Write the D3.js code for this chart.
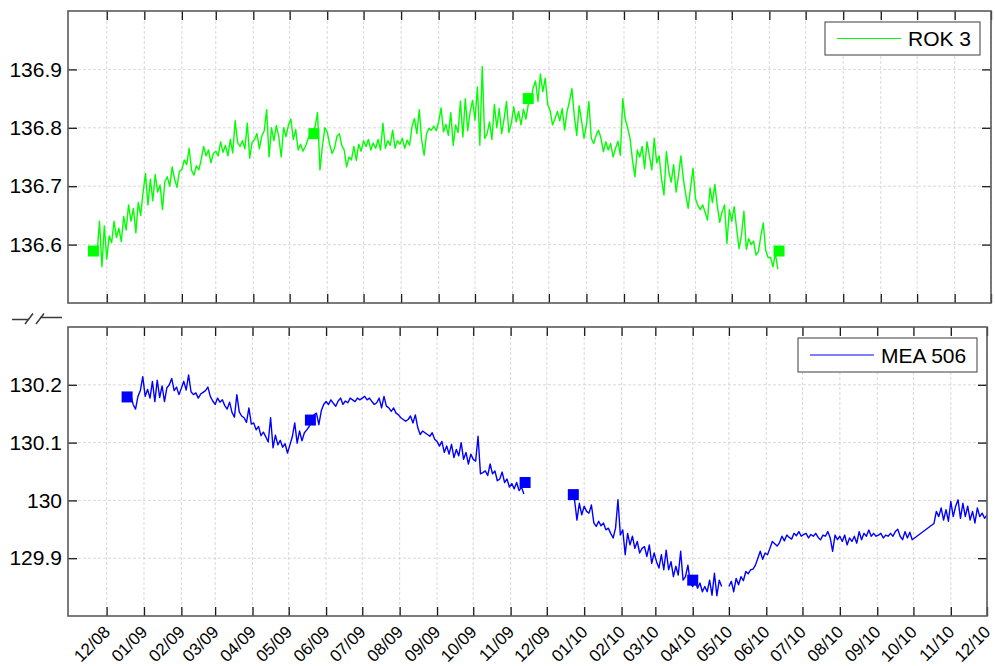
<!DOCTYPE html>
<html>
<head>
<meta charset="utf-8">
<script src="https://cdn.jsdelivr.net/npm/d3@7"></script>
<style>
  body { margin: 0; background: #fff; }
  svg { display: block; }
  text { font-family: "Liberation Sans", Arial, Helvetica, sans-serif; fill: #000; }
</style>
</head>
<body>
<svg id="chart" width="995" height="666"></svg>
<script>
// ---- data -------------------------------------------------------------
// Samples are every second day; each run starts at the given date.
const SAMPLE_DAYS = 2;

const rokStart = "2008-11-23";
const rokValues = [
  136.585, 136.640, 136.562, 136.632,
  136.575, 136.615, 136.603, 136.640, 136.612, 136.628, 136.605, 136.648, 136.625, 136.668, 136.640, 136.662, 136.620, 136.672, 136.650, 136.690,
  136.722, 136.668, 136.712, 136.675, 136.720, 136.690, 136.702, 136.660, 136.708, 136.716, 136.700, 136.733, 136.712, 136.698, 136.726,
  136.728, 136.745, 136.737, 136.765, 136.727, 136.719, 136.735, 136.728, 136.746, 136.768, 136.752, 136.762, 136.740, 136.756,
  136.760, 136.752, 136.776, 136.758, 136.770, 136.752, 136.780, 136.757, 136.812, 136.775, 136.768, 136.778, 136.764, 136.808, 136.748, 136.775,
  136.780, 136.790, 136.764, 136.786, 136.795, 136.831, 136.750, 136.800, 136.778, 136.804, 136.785, 136.750, 136.800, 136.785, 136.805,
  136.815, 136.780, 136.797, 136.762, 136.772, 136.760, 136.768, 136.780, 136.790, 136.795, 136.802, 136.826, 136.728, 136.768, 136.800,
  136.793, 136.772, 136.756, 136.765, 136.785, 136.790, 136.770, 136.762, 136.733, 136.750, 136.745, 136.768, 136.744, 136.772, 136.760,
  136.778, 136.768, 136.780, 136.762, 136.774, 136.765, 136.780, 136.762, 136.808, 136.765, 136.778, 136.770, 136.796, 136.765, 136.778, 136.772,
  136.782, 136.765, 136.779, 136.770, 136.802, 136.816, 136.790, 136.831, 136.778, 136.753, 136.790, 136.799, 136.796, 136.803, 136.795,
  136.810, 136.834, 136.793, 136.806, 136.787, 136.826, 136.770, 136.805, 136.792, 136.846, 136.784, 136.850, 136.795, 136.828, 136.847,
  136.813, 136.870, 136.770, 136.905, 136.782, 136.790, 136.810, 136.780, 136.840, 136.800, 136.833, 136.790, 136.815, 136.845, 136.792, 136.808,
  136.836, 136.810, 136.828, 136.805, 136.832, 136.815, 136.840, 136.848, 136.868, 136.880, 136.845, 136.892, 136.862, 136.885, 136.840,
  136.830, 136.805, 136.815, 136.828, 136.812, 136.833, 136.796, 136.828, 136.845, 136.867, 136.820, 136.787, 136.838, 136.812, 136.782,
  136.805, 136.845, 136.782, 136.773, 136.787, 136.796, 136.782, 136.759, 136.776, 136.762, 136.773, 136.750, 136.765, 136.777, 136.753, 136.850,
  136.815, 136.800, 136.782, 136.745, 136.716, 136.762, 136.750, 136.768, 136.730, 136.776, 136.752, 136.728, 136.782, 136.740,
  136.752, 136.712, 136.685, 136.759, 136.725, 136.707, 136.737, 136.690, 136.718, 136.752, 136.713, 136.685, 136.662, 136.698, 136.731,
  136.679, 136.667, 136.660, 136.668, 136.655, 136.642, 136.697, 136.672, 136.703, 136.667, 136.638, 136.656, 136.668, 136.602, 136.660,
  136.640, 136.665, 136.627, 136.593, 136.616, 136.657, 136.592, 136.610, 136.600, 136.606, 136.582, 136.588, 136.615, 136.637, 136.590, 136.578,
  136.578, 136.562, 136.585, 136.558
];
const rokMarkerDates = ["2008-11-20", "2009-05-21", "2009-11-14", "2010-06-09"];
const rokMarkerValues = [136.589, 136.790, 136.850, 136.589];

const meaStartA = "2008-12-21";
const meaValuesA = [
  130.183, 130.166, 130.158, 130.180, 130.190, 130.214,
  130.180, 130.192, 130.177, 130.206, 130.171, 130.208, 130.178, 130.198, 130.171, 130.195, 130.200, 130.211, 130.190, 130.196, 130.183,
  130.194, 130.206, 130.191, 130.217, 130.188, 130.183, 130.186, 130.177, 130.184, 130.187, 130.190, 130.196, 130.180, 130.172,
  130.166, 130.177, 130.170, 130.174, 130.164, 130.158, 130.170, 130.152, 130.144, 130.183, 130.153, 130.146, 130.143, 130.135, 130.160, 130.132,
  130.134, 130.122, 130.128, 130.112, 130.118, 130.110, 130.101, 130.143, 130.091, 130.113, 130.096, 130.104, 130.092, 130.098, 130.082,
  130.096, 130.110, 130.134, 130.099, 130.120, 130.103, 130.117, 130.122, 130.128, 130.138, 130.148, 130.151, 130.131, 130.155, 130.166,
  130.171, 130.166, 130.174, 130.168, 130.163, 130.172, 130.177, 130.166, 130.172, 130.169, 130.177, 130.174, 130.171, 130.177, 130.174,
  130.177, 130.180, 130.174, 130.177, 130.171, 130.166, 130.169, 130.177, 130.160, 130.180, 130.163, 130.160, 130.154, 130.160, 130.151, 130.148,
  130.143, 130.140, 130.137, 130.140, 130.146, 130.134, 130.148, 130.126, 130.114, 130.120, 130.117, 130.114, 130.111, 130.117, 130.106,
  130.102, 130.094, 130.102, 130.083, 130.094, 130.080, 130.097, 130.074, 130.088, 130.077, 130.100, 130.071, 130.083, 130.063, 130.080,
  130.071, 130.068, 130.111, 130.046, 130.048, 130.051, 130.043, 130.063, 130.046, 130.051, 130.034, 130.037, 130.049, 130.031, 130.037, 130.023,
  130.029, 130.020, 130.031, 130.017, 130.023, 130.011
];

const meaStartB = "2009-12-24";
const meaValuesB = [
  130.001, 129.966, 129.995, 129.975, 129.990, 129.981, 129.978, 129.992, 129.961, 129.955,
  129.964, 129.956, 129.961, 129.949, 129.952, 129.943, 129.935, 129.952, 130.001, 129.940,
  129.949, 129.906, 129.943, 129.923, 129.938, 129.917, 129.929, 129.909, 129.917, 129.920,
  129.903, 129.923, 129.891, 129.909, 129.894, 129.883, 129.906, 129.880, 129.914, 129.880,
  129.894, 129.868, 129.886, 129.871, 129.912, 129.862, 129.868, 129.888, 129.857, 129.851,
  129.860, 129.848, 129.857, 129.842, 129.851, 129.842, 129.862, 129.836, 129.874, 129.835,
  129.862, 129.851
];

const meaStartC = "2010-05-01";
const meaValuesC = [
  129.851, 129.860, 129.842, 129.865, 129.854, 129.868, 129.861, 129.877, 129.873, 129.880,
  129.881, 129.888, 129.900, 129.912, 129.898, 129.909, 129.906, 129.917, 129.929, 129.925,
  129.921, 129.927, 129.938, 129.930, 129.940, 129.936, 129.933, 129.943, 129.939, 129.946,
  129.938, 129.941, 129.943, 129.935, 129.941, 129.938, 129.943, 129.936, 129.932, 129.940,
  129.938, 129.946, 129.935, 129.912, 129.940, 129.932, 129.938, 129.929, 129.940, 129.923,
  129.935, 129.929, 129.938, 129.926, 129.946, 129.932, 129.943, 129.938, 129.949, 129.938,
  129.943, 129.938, 129.940, 129.943, 129.935, 129.940, 129.938, 129.943, 129.938, 129.946,
  129.950, 129.938, 129.932, 129.946, 129.935, 129.945, 129.932
];

const meaStartD = "2010-10-18";
const meaValuesD = [
  129.960, 129.981, 129.972, 129.987, 129.966, 129.984, 129.964, 129.998, 129.972, 129.990,
  130.001, 129.969, 129.995, 129.972, 129.990, 129.966, 129.981, 129.961, 129.987, 129.972,
  129.978, 129.969, 129.975
];
const meaMarkerDates = ["2008-12-18", "2009-05-19", "2009-11-13", "2009-12-23", "2010-04-01"];
const meaMarkerValues = [130.179, 130.139, 130.031, 130.010, 129.862];

const xDomain = ["2008-10-30", "2010-12-01"];
const tickMonthsFrom = "2008-12-01";
const yTicksTop = [136.6, 136.7, 136.8, 136.9];
const yTicksBottom = [129.9, 130.0, 130.1, 130.2];
const yDomainTop = [136.5, 137.0];
const yDomainBottom = [129.8, 130.3];
const legendTop = "ROK 3";
const legendBottom = "MEA 506";

// ---- helpers ----------------------------------------------------------
const parse = d3.timeParse("%Y-%m-%d");
const run = (start, values) => {
  const t0 = parse(start);
  return values.map((v, i) => ({ date: d3.timeDay.offset(t0, i * SAMPLE_DAYS), value: v }));
};
const points = (dates, values) => dates.map((d, i) => ({ date: parse(d), value: values[i] }));

const rokSeries = [run(rokStart, rokValues)];
const meaSeries = [
  run(meaStartA, meaValuesA),
  run(meaStartB, meaValuesB),
  run(meaStartC, meaValuesC).concat(run(meaStartD, meaValuesD))
];

const months = d3.timeMonth.range(parse(tickMonthsFrom), d3.timeDay.offset(parse(xDomain[1]), 1));

const svg = d3.select("#chart");

const GREEN = "#00ff00";
const BLUE = "#0000ff";

function panel(cfg) {
  const { left, right, top, bottom } = cfg.box;
  const x = d3.scaleTime().domain(xDomain.map(parse)).range([left, right]);
  const y = d3.scaleLinear().domain(cfg.yDomain).range([bottom, top]);
  const g = svg.append("g");

  const clipId = "clip-" + cfg.id;
  svg.append("clipPath").attr("id", clipId)
    .append("rect").attr("x", left).attr("y", top).attr("width", right - left).attr("height", bottom - top);

  // grid
  const grid = g.append("g").attr("stroke", "#cfcfcf").attr("stroke-width", 0.8).attr("stroke-dasharray", "3,2");
  grid.selectAll("line.v").data(months).join("line").attr("class", "v")
    .attr("x1", d => x(d)).attr("x2", d => x(d)).attr("y1", top).attr("y2", bottom);
  grid.selectAll("line.h").data(cfg.yTicks).join("line").attr("class", "h")
    .attr("x1", left).attr("x2", right).attr("y1", d => y(d)).attr("y2", d => y(d));

  // series
  const line = d3.line().x(d => x(d.date)).y(d => y(d.value));
  const plot = g.append("g").attr("clip-path", `url(#${clipId})`);
  plot.selectAll("path.series").data(cfg.series).join("path").attr("class", "series")
    .attr("fill", "none").attr("stroke", cfg.color).attr("stroke-width", 1.4)
    .attr("stroke-linejoin", "round").attr("d", line);
  const ms = 11;
  plot.selectAll("rect.marker").data(cfg.markers).join("rect").attr("class", "marker")
    .attr("x", d => x(d.date) - ms / 2).attr("y", d => y(d.value) - ms / 2)
    .attr("width", ms).attr("height", ms).attr("fill", cfg.color);

  // axes with inward ticks on all four sides
  const tickStyle = sel => {
    sel.select(".domain").remove();
    sel.selectAll(".tick line").attr("stroke", "#1a1a1a").attr("stroke-width", 1.3);
  };
  const yFmt = d3.format("~f");
  g.append("g").attr("transform", `translate(${left},0)`)
    .call(d3.axisLeft(y).tickValues(cfg.yTicks).tickSize(-9).tickPadding(6).tickFormat(yFmt))
    .call(tickStyle)
    .call(s => s.selectAll("text").attr("font-size", 21).attr("fill", "#000")
      .style("font-family", '"Liberation Sans", Arial, sans-serif'));
  g.append("g").attr("transform", `translate(${right},0)`)
    .call(d3.axisRight(y).tickValues(cfg.yTicks).tickSize(-9).tickFormat(""))
    .call(tickStyle);
  g.append("g").attr("transform", `translate(0,${top})`)
    .call(d3.axisTop(x).tickValues(months).tickSize(-9).tickFormat(""))
    .call(tickStyle);
  const xb = g.append("g").attr("transform", `translate(0,${bottom})`)
    .call(d3.axisBottom(x).tickValues(months).tickSize(-9)
      .tickFormat(cfg.xLabels ? d3.timeFormat("%m/%y") : ""))
    .call(tickStyle);
  if (cfg.xLabels) {
    xb.selectAll(".tick text")
      .attr("x", 0).attr("y", 0).attr("dy", 0)
      .attr("transform", "translate(4,17) rotate(-45)")
      .attr("text-anchor", "end")
      .attr("font-size", 17).attr("fill", "#000")
      .style("font-family", '"Liberation Sans", Arial, sans-serif');
  }

  // axes box
  g.append("rect").attr("x", left).attr("y", top).attr("width", right - left).attr("height", bottom - top)
    .attr("fill", "none").attr("stroke", "#5a5a5a").attr("stroke-width", 1.6);

  // legend
  const L = cfg.legend;
  const lg = g.append("g");
  lg.append("rect").attr("x", L.x).attr("y", L.y).attr("width", L.w).attr("height", L.h)
    .attr("fill", "#fff").attr("stroke", "#3c3c3c").attr("stroke-width", 1);
  lg.append("line").attr("x1", L.x + 12).attr("x2", L.x + 76)
    .attr("y1", L.y + L.h / 2).attr("y2", L.y + L.h / 2)
    .attr("stroke", cfg.color).attr("stroke-width", 1.2);
  lg.append("text").attr("x", L.x + 83).attr("y", L.y + L.h / 2 + 7.5)
    .attr("font-size", 21).text(cfg.label);
}

panel({
  id: "rok",
  box: { left: 68, right: 991, top: 11, bottom: 303 },
  yDomain: yDomainTop, yTicks: yTicksTop,
  series: rokSeries, markers: points(rokMarkerDates, rokMarkerValues),
  color: GREEN, label: legendTop, xLabels: false,
  legend: { x: 825, y: 22, w: 155, h: 33 }
});

panel({
  id: "mea",
  box: { left: 68, right: 987, top: 327, bottom: 616 },
  yDomain: yDomainBottom, yTicks: yTicksBottom,
  series: meaSeries, markers: points(meaMarkerDates, meaMarkerValues),
  color: BLUE, label: legendBottom, xLabels: true,
  legend: { x: 798, y: 338, w: 179, h: 34 }
});

// axis break mark between the two panels
const brk = svg.append("g").attr("stroke", "#3a3a3a").attr("stroke-width", 1.5).attr("fill", "none");
brk.append("path").attr("d", "M12,319.5 L28,319.5 M25,324 L33,313.5 M36,324 L44,313.5 M40,317.5 L62,317.5");
</script>
</body>
</html>
